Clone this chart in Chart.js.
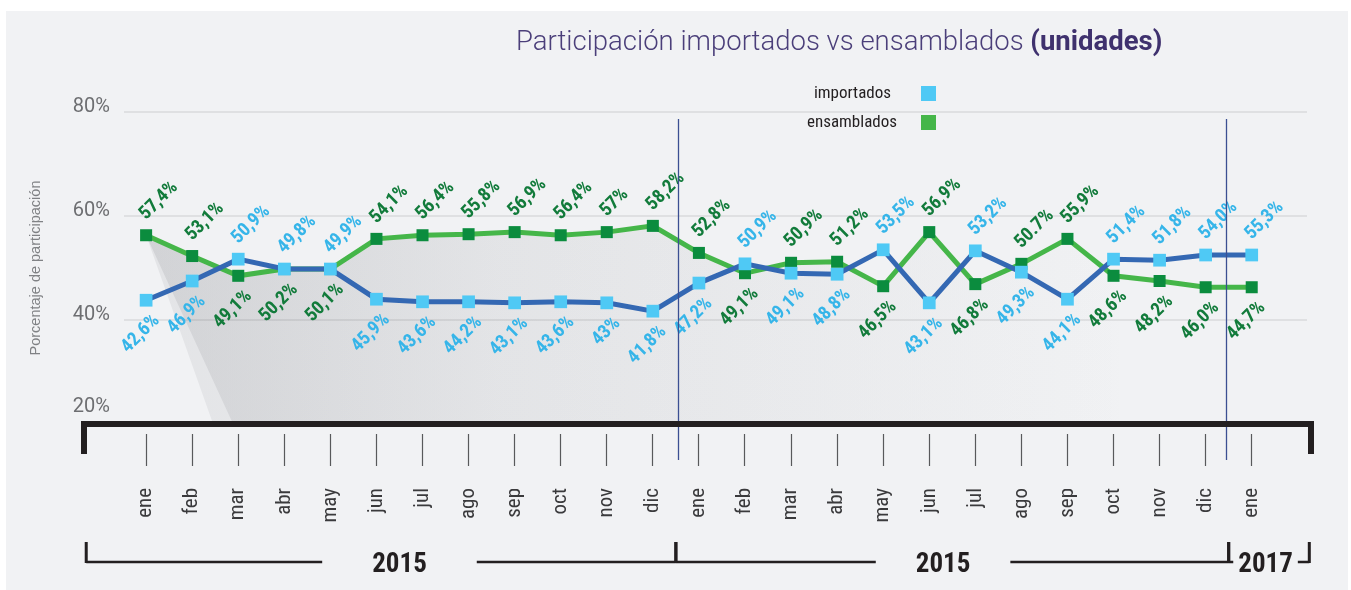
<!DOCTYPE html>
<html>
<head>
<meta charset="utf-8">
<script src="https://cdn.jsdelivr.net/npm/chart.js@4.4.1/dist/chart.umd.min.js"></script>
<style>
  html, body { margin: 0; padding: 0; background: #fff; }
  #cv { display: block; }
</style>
</head>
<body>
<canvas id="cv" width="1351" height="590"></canvas>
<script>
/* ── participación importados vs ensamblados ── */

const months = ['ene', 'feb', 'mar', 'abr', 'may', 'jun', 'jul', 'ago', 'sep', 'oct', 'nov', 'dic',
  'ene', 'feb', 'mar', 'abr', 'may', 'jun', 'jul', 'ago', 'sep', 'oct', 'nov', 'dic', 'ene'];

// plotted positions (%)
const importados = [43.8, 47.5, 51.7, 49.8, 49.8, 44.0, 43.5, 43.5, 43.3, 43.5, 43.3, 41.7,
  47.1, 50.8, 49.0, 48.8, 53.5, 43.3, 53.3, 49.2, 44.0, 51.7, 51.5, 52.5, 52.5];
const ensamblados = [56.3, 52.3, 48.5, 49.8, 49.8, 55.6, 56.3, 56.5, 56.9, 56.3, 56.9, 58.1,
  52.9, 49.0, 51.0, 51.2, 46.5, 56.9, 46.9, 50.8, 55.6, 48.5, 47.5, 46.3, 46.3];

// printed value labels
const importadosLbl = ['42,6%', '46,9%', '50,9%', '49,8%', '49,9%', '45,9%', '43,6%', '44,2%', '43,1%', '43,6%', '43%', '41,8%',
  '47,2%', '50,9%', '49,1%', '48,8%', '53,5%', '43,1%', '53,2%', '49,3%', '44,1%', '51,4%', '51,8%', '54,0%', '55,3%'];
const ensambladosLbl = ['57,4%', '53,1%', '49,1%', '50,2%', '50,1%', '54,1%', '56,4%', '55,8%', '56,9%', '56,4%', '57%', '58,2%',
  '52,8%', '49,1%', '50,9%', '51,2%', '46,5%', '56,9%', '46,8%', '50.7%', '55,9%', '48,6%', '48,2%', '46,0%', '44,7%'];

const yTicks = [20, 40, 60, 80];
const years = ['2015', '2015', '2017'];
const yearSpans = [[-1.3, 11.5], [11.5, 23.5], [23.5, 25.25]];
const yearMid = [5.5, 17.3, 24.3];
const dividers = [11.55, 23.45];

const NARROW = "'Liberation Sans Narrow', 'Roboto Condensed', 'Liberation Sans', sans-serif";
const INK = '#231f20';

function pts(arr) { return arr.map((v, i) => ({ x: i, y: v })); }

// grey fading "shadow" under the ensamblados line
function drawShadow(c) {
  const g = c.ctx, ca = c.chartArea;
  const p = c.getDatasetMeta(1).data;
  const layer = (slant, a) => {
    const gr = g.createLinearGradient(p[0].x, 0, 1150, 0);
    gr.addColorStop(0, 'rgba(60,62,70,' + a + ')');
    gr.addColorStop(0.35, 'rgba(60,62,70,' + (a * 0.45) + ')');
    gr.addColorStop(1, 'rgba(60,62,70,0)');
    g.beginPath();
    g.moveTo(p[0].x, p[0].y);
    p.forEach(q => g.lineTo(q.x, q.y));
    g.lineTo(p[p.length - 1].x, ca.bottom);
    g.lineTo(p[0].x + slant, ca.bottom);
    g.closePath();
    g.fillStyle = gr; g.fill();
  };
  g.save();
  layer(67, 0.08);
  layer(87, 0.10);
  g.restore();
}

function drawValueLabels(c) {
  const g = c.ctx;
  const sets = [[0, importadosLbl, '#36b5e9'], [1, ensambladosLbl, '#127b3b']];
  g.save();
  g.font = 'bold 19px ' + NARROW;
  g.textBaseline = 'alphabetic';
  sets.forEach(([di, lbls, col]) => {
    const own = c.data.datasets[di].data, other = c.data.datasets[1 - di].data;
    c.getDatasetMeta(di).data.forEach((pt, i) => {
      const above = own[i].y > other[i].y || (own[i].y === other[i].y && di === 0);
      g.save();
      g.translate(pt.x + (above ? 0 : 14), pt.y + (above ? -15 : 21));
      g.rotate(-Math.PI / 4);
      g.textAlign = above ? 'left' : 'right';
      g.fillStyle = col;
      g.fillText(lbls[i], 0, 0);
      g.restore();
    });
  });
  g.restore();
}

function drawAxisBar(c) {
  const g = c.ctx, ca = c.chartArea, xs = c.scales.x;
  g.save();
  // divider lines between years
  g.strokeStyle = '#3b4f92'; g.lineWidth = 1.3;
  dividers.forEach(v => {
    const x = Math.round(xs.getPixelForValue(v)) + 0.5;
    g.beginPath(); g.moveTo(x, ca.top + 7); g.lineTo(x, 460); g.stroke();
  });
  // thick bracket bar
  const l = ca.left - 40, r = ca.right + 4, y = ca.bottom;
  g.strokeStyle = INK; g.lineWidth = 6; g.lineJoin = 'miter';
  g.beginPath(); g.moveTo(l, 454); g.lineTo(l, y); g.lineTo(r, y); g.lineTo(r, 454); g.stroke();
  g.restore();
}

function drawYears(c) {
  const g = c.ctx, xs = c.scales.x;
  const pad = [50, 40, 5];
  const ly = 562;
  g.save();
  g.font = 'bold 27px ' + NARROW;
  g.fillStyle = INK; g.strokeStyle = INK;
  g.textAlign = 'center'; g.textBaseline = 'alphabetic';
  years.forEach((t, i) => {
    const a = xs.getPixelForValue(yearSpans[i][0]), b = xs.getPixelForValue(yearSpans[i][1]);
    const m = xs.getPixelForValue(yearMid[i]);
    const w = g.measureText(t).width / 2 + pad[i];
    g.fillText(t, m, 572);
    g.lineWidth = 2.5;
    g.beginPath(); g.moveTo(a, ly); g.lineTo(m - w, ly); g.moveTo(m + w, ly); g.lineTo(b, ly); g.stroke();
    g.lineWidth = 3;
    g.beginPath(); g.moveTo(a, 542); g.lineTo(a, ly + 1); g.moveTo(b, 542); g.lineTo(b, ly + 1); g.stroke();
  });
  g.restore();
}

function drawTitleLegend(c) {
  const g = c.ctx;
  g.save();
  g.textBaseline = 'alphabetic'; g.textAlign = 'left';
  const t1 = 'Participación importados vs ensamblados ', t2 = '(unidades)';
  g.font = '300 27.5px Roboto, sans-serif';
  g.fillStyle = '#4b3f7a';
  g.fillText(t1, 516, 50);
  const w = g.measureText(t1).width;
  g.font = 'bold 27.5px Roboto, sans-serif';
  g.fillStyle = '#3f316e';
  g.fillText(t2, 516 + w, 50);

  // legend: text right-aligned, swatch on the right
  g.font = '17px ' + NARROW;
  g.textAlign = 'right'; g.textBaseline = 'middle';
  const sw = [c.data.datasets[0].pointBackgroundColor, c.data.datasets[1].borderColor];
  c.data.datasets.forEach((ds, i) => {
    const y = 94 + i * 29;
    g.fillStyle = INK;
    g.fillText(ds.label, 891 + i * 6, y);
    g.fillStyle = sw[i];
    g.fillRect(921, y - 8, 15, 15);
  });
  g.restore();
}

const deco = {
  id: 'deco',
  beforeDraw(c) {
    const g = c.ctx;
    g.save();
    g.fillStyle = '#fff'; g.fillRect(0, 0, c.width, c.height);
    g.fillStyle = '#f1f2f4'; g.fillRect(6, 11, 1342, 579);
    g.restore();
  },
  beforeDatasetsDraw(c) { drawShadow(c); },
  afterDatasetsDraw(c) {
    drawValueLabels(c);
    drawAxisBar(c);
  },
  afterDraw(c) {
    drawYears(c);
    drawTitleLegend(c);
  }
};

new Chart(document.getElementById('cv'), {
  type: 'line',
  data: {
    datasets: [{
      label: 'importados',
      data: pts(importados),
      borderColor: '#3468b3',
      borderWidth: 5,
      pointStyle: 'rect',
      pointRadius: 9,
      pointBorderWidth: 0,
      pointBackgroundColor: '#4fc9f5',
      tension: 0
    }, {
      label: 'ensamblados',
      data: pts(ensamblados),
      borderColor: '#45b649',
      borderWidth: 5,
      pointStyle: 'rect',
      pointRadius: 8.5,
      pointBorderWidth: 0,
      pointBackgroundColor: '#0b8c3e',
      tension: 0
    }]
  },
  options: {
    responsive: false,
    animation: false,
    layout: { padding: { top: 112, right: 44, left: 0, bottom: 0 } },
    plugins: { legend: { display: false }, title: { display: false }, tooltip: { enabled: false } },
    scales: {
      x: {
        type: 'linear',
        min: -0.48, max: 25.2,
        afterBuildTicks: s => { s.ticks = months.map((m, i) => ({ value: i })); },
        afterFit: s => { s.height = 166; },
        border: { display: false },
        grid: {
          drawOnChartArea: false, drawTicks: true, tickLength: 42,
          tickColor: '#58595b', tickWidth: 1.2, tickBorderDash: [0, 10, 32, 10]
        },
        ticks: {
          autoSkip: false, minRotation: 90, maxRotation: 90, padding: 22,
          color: '#3a3a3c', font: { family: NARROW, size: 21 },
          callback: v => months[Math.round(v)]
        }
      },
      y: {
        min: 20, max: 80,
        afterBuildTicks: s => { s.ticks = yTicks.map(v => ({ value: v })); },
        afterFit: s => { s.width = 124; },
        border: { display: false },
        grid: {
          drawTicks: false, lineWidth: 2,
          color: ctx => ctx.tick && ctx.tick.value === 20 ? 'rgba(0,0,0,0)' : '#dfe0e2'
        },
        ticks: {
          padding: 14, labelOffset: -5,
          color: '#6d6e71', font: { family: 'Roboto, sans-serif', size: 20, weight: 400 },
          callback: v => v === 20 ? [v + '%', ''] : v + '%'
        },
        title: {
          display: true, text: 'Porcentaje de participación',
          color: '#808285', font: { family: "'Liberation Sans', sans-serif", size: 14.5 },
          padding: { top: 27, bottom: 0 }
        }
      }
    }
  },
  plugins: [deco]
});
</script>
</body>
</html>
